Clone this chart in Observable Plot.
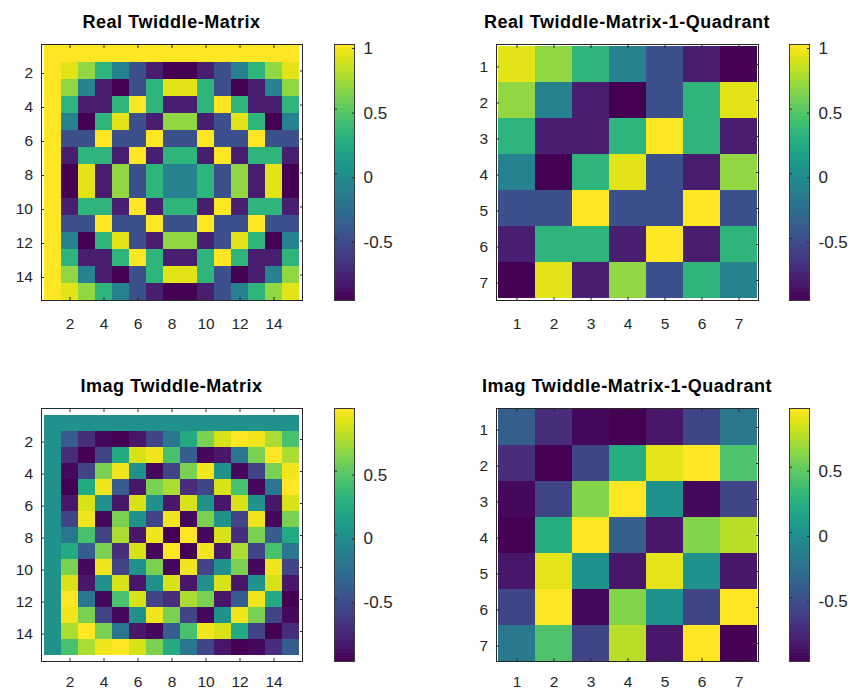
<!DOCTYPE html>
<html>
<head>
<meta charset="utf-8">
<script src="https://cdn.jsdelivr.net/npm/d3@7"></script>
<script src="https://cdn.jsdelivr.net/npm/@observablehq/plot@0.6"></script>
<style>
  html, body { margin: 0; padding: 0; background: #fff; }
  #fig { position: relative; width: 850px; height: 691px; overflow: hidden; font-family: "Liberation Sans", Arial, Helvetica, sans-serif; }
  #fig svg { max-width: none !important; display: block; }
  .title { position: absolute; font-weight: bold; font-size: 18px; line-height: 18px; letter-spacing: 0.55px; color: #000; text-align: center; white-space: nowrap; transform: translateX(-50%); }
  .panel { position: absolute; }
</style>
</head>
<body>
<div id="fig"></div>
<script>
// ---------- data ----------
const fullIndex = [1,2,3,4,5,6,7,8,9,10,11,12,13,14,15];
const quadIndex = [1,2,3,4,5,6,7];
const fullTicks = [2,4,6,8,10,12,14];
const quadTicks = [1,2,3,4,5,6,7];
const realBarTicks = [-0.5, 0, 0.5, 1];
const imagBarTicks = [-0.5, 0, 0.5];

const titles = ["Real Twiddle-Matrix", "Real Twiddle-Matrix-1-Quadrant", "Imag Twiddle-Matrix", "Imag Twiddle-Matrix-1-Quadrant"];

const realFull = [
 [1,1,1,1,1,1,1,1,1,1,1,1,1,1,1],
 [1,0.91,0.67,0.31,-0.1,-0.5,-0.81,-0.98,-0.98,-0.81,-0.5,-0.1,0.31,0.67,0.91],
 [1,0.67,-0.1,-0.81,-0.98,-0.5,0.31,0.91,0.91,0.31,-0.5,-0.98,-0.81,-0.1,0.67],
 [1,0.31,-0.81,-0.81,0.31,1,0.31,-0.81,-0.81,0.31,1,0.31,-0.81,-0.81,0.31],
 [1,-0.1,-0.98,0.31,0.91,-0.5,-0.81,0.67,0.67,-0.81,-0.5,0.91,0.31,-0.98,-0.1],
 [1,-0.5,-0.5,1,-0.5,-0.5,1,-0.5,-0.5,1,-0.5,-0.5,1,-0.5,-0.5],
 [1,-0.81,0.31,0.31,-0.81,1,-0.81,0.31,0.31,-0.81,1,-0.81,0.31,0.31,-0.81],
 [1,-0.98,0.91,-0.81,0.67,-0.5,0.31,-0.1,-0.1,0.31,-0.5,0.67,-0.81,0.91,-0.98],
 [1,-0.98,0.91,-0.81,0.67,-0.5,0.31,-0.1,-0.1,0.31,-0.5,0.67,-0.81,0.91,-0.98],
 [1,-0.81,0.31,0.31,-0.81,1,-0.81,0.31,0.31,-0.81,1,-0.81,0.31,0.31,-0.81],
 [1,-0.5,-0.5,1,-0.5,-0.5,1,-0.5,-0.5,1,-0.5,-0.5,1,-0.5,-0.5],
 [1,-0.1,-0.98,0.31,0.91,-0.5,-0.81,0.67,0.67,-0.81,-0.5,0.91,0.31,-0.98,-0.1],
 [1,0.31,-0.81,-0.81,0.31,1,0.31,-0.81,-0.81,0.31,1,0.31,-0.81,-0.81,0.31],
 [1,0.67,-0.1,-0.81,-0.98,-0.5,0.31,0.91,0.91,0.31,-0.5,-0.98,-0.81,-0.1,0.67],
 [1,0.91,0.67,0.31,-0.1,-0.5,-0.81,-0.98,-0.98,-0.81,-0.5,-0.1,0.31,0.67,0.91]
];

const imagFull = [
 [0,0,0,0,0,0,0,0,0,0,0,0,0,0,0],
 [0,-0.41,-0.74,-0.95,-0.99,-0.87,-0.59,-0.21,0.21,0.59,0.87,0.99,0.95,0.74,0.41],
 [0,-0.74,-0.99,-0.59,0.21,0.87,0.95,0.41,-0.41,-0.95,-0.87,-0.21,0.59,0.99,0.74],
 [0,-0.95,-0.59,0.59,0.95,0,-0.95,-0.59,0.59,0.95,0,-0.95,-0.59,0.59,0.95],
 [0,-0.99,0.21,0.95,-0.41,-0.87,0.59,0.74,-0.74,-0.59,0.87,0.41,-0.95,-0.21,0.99],
 [0,-0.87,0.87,0,-0.87,0.87,0,-0.87,0.87,0,-0.87,0.87,0,-0.87,0.87],
 [0,-0.59,0.95,-0.95,0.59,0,-0.59,0.95,-0.95,0.59,0,-0.59,0.95,-0.95,0.59],
 [0,-0.21,0.41,-0.59,0.74,-0.87,0.95,-0.99,0.99,-0.95,0.87,-0.74,0.59,-0.41,0.21],
 [0,0.21,-0.41,0.59,-0.74,0.87,-0.95,0.99,-0.99,0.95,-0.87,0.74,-0.59,0.41,-0.21],
 [0,0.59,-0.95,0.95,-0.59,0,0.59,-0.95,0.95,-0.59,0,0.59,-0.95,0.95,-0.59],
 [0,0.87,-0.87,0,0.87,-0.87,0,0.87,-0.87,0,0.87,-0.87,0,0.87,-0.87],
 [0,0.99,-0.21,-0.95,0.41,0.87,-0.59,-0.74,0.74,0.59,-0.87,-0.41,0.95,0.21,-0.99],
 [0,0.95,0.59,-0.59,-0.95,0,0.95,0.59,-0.59,-0.95,0,0.95,0.59,-0.59,-0.95],
 [0,0.74,0.99,0.59,-0.21,-0.87,-0.95,-0.41,0.41,0.95,0.87,0.21,-0.59,-0.99,-0.74],
 [0,0.41,0.74,0.95,0.99,0.87,0.59,0.21,-0.21,-0.59,-0.87,-0.99,-0.95,-0.74,-0.41]
];

const realQuad = [
 [0.91,0.67,0.31,-0.1,-0.5,-0.81,-0.98],
 [0.67,-0.1,-0.81,-0.98,-0.5,0.31,0.91],
 [0.31,-0.81,-0.81,0.31,1,0.31,-0.81],
 [-0.1,-0.98,0.31,0.91,-0.5,-0.81,0.67],
 [-0.5,-0.5,1,-0.5,-0.5,1,-0.5],
 [-0.81,0.31,0.31,-0.81,1,-0.81,0.31],
 [-0.98,0.91,-0.81,0.67,-0.5,0.31,-0.1]
];

const imagQuad = [
 [-0.41,-0.74,-0.95,-0.99,-0.87,-0.59,-0.21],
 [-0.74,-0.99,-0.59,0.21,0.87,0.95,0.41],
 [-0.95,-0.59,0.59,0.95,0,-0.95,-0.59],
 [-0.99,0.21,0.95,-0.41,-0.87,0.59,0.74],
 [-0.87,0.87,0,-0.87,0.87,0,-0.87],
 [-0.59,0.95,-0.95,0.59,0,-0.59,0.95],
 [-0.21,0.41,-0.59,0.74,-0.87,0.95,-0.99]
];

// ---------- layout ----------
const INK = "#262626";
const FONT = "'Liberation Sans', Arial, Helvetica, sans-serif";
const fig = document.getElementById("fig");

const panels = [
  {title: titles[0], M: realFull, idx: fullIndex, ticks: fullTicks, bar: realBarTicks, fx: 41, fy: 44, fw: 261, fh: 256, bx: 334, pad: 20.5},
  {title: titles[1], M: realQuad, idx: quadIndex, ticks: quadTicks, bar: realBarTicks, fx: 496, fy: 44, fw: 262, fh: 256, bx: 789, pad: 20.5},
  {title: titles[2], M: imagFull, idx: fullIndex, ticks: fullTicks, bar: imagBarTicks, fx: 41, fy: 408, fw: 261, fh: 253, bx: 334, pad: 17},
  {title: titles[3], M: imagQuad, idx: quadIndex, ticks: quadTicks, bar: imagBarTicks, fx: 496, fy: 408, fw: 262, fh: 253, bx: 789, pad: 17}
];

function place(node, left, top) {
  const d = document.createElement("div");
  d.className = "panel";
  d.style.left = left + "px";
  d.style.top = top + "px";
  d.appendChild(node);
  fig.appendChild(d);
}

const styleObj = {fontFamily: FONT, fontSize: "15px", color: INK, background: "transparent", overflow: "visible"};

for (const p of panels) {
  const cells = [];
  p.M.forEach((row, i) => row.forEach((v, j) => cells.push({row: p.idx[i], col: p.idx[j], v})));
  const vals = cells.map(d => d.v);
  const lo = d3.min(vals), hi = d3.max(vals);
  const color = {type: "linear", scheme: "viridis", domain: [lo, hi]};

  const mL = 45, mT = 10, mR = 10, mB = 30;
  const heat = Plot.plot({
    width: p.fw + mL + mR, height: p.fh + mT + mB,
    marginLeft: mL, marginTop: mT, marginRight: mR, marginBottom: mB,
    x: {type: "band", domain: p.idx, padding: 0, axis: null, label: null},
    y: {type: "band", domain: p.idx, padding: 0, axis: null, label: null},
    color,
    style: styleObj,
    marks: [
      Plot.cell(cells, {x: "col", y: "row", fill: "v", shapeRendering: "crispEdges"}),
      Plot.axisX(p.ticks, {anchor: "bottom", tickSize: -3, tickPadding: p.pad, stroke: INK, fill: INK, label: null, fontSize: 15.5}),
      Plot.axisX(p.ticks, {anchor: "top", tickSize: -3, tickFormat: () => "", stroke: INK, label: null}),
      Plot.axisY(p.ticks, {anchor: "left", tickSize: -3, tickPadding: 11.5, dy: 2.5, stroke: INK, fill: INK, label: null, fontSize: 15.5}),
      Plot.axisY(p.ticks, {anchor: "right", tickSize: -3, tickFormat: () => "", stroke: INK, label: null}),
      Plot.frame({stroke: INK, strokeWidth: 1})
    ]
  });
  place(heat, p.fx - mL, p.fy - mT);

  // colorbar
  const n = 64;
  const stops = d3.range(n).map(i => ({y1: lo + (hi - lo) * i / n, y2: lo + (hi - lo) * (i + 1) / n, v: lo + (hi - lo) * (i + 0.5) / n}));
  const bL = 5, bR = 50, bT = 10, bB = 10, bw = 20;
  const bar = Plot.plot({
    width: bw + bL + bR, height: p.fh + bT + bB,
    marginLeft: bL, marginRight: bR, marginTop: bT, marginBottom: bB,
    x: {axis: null},
    y: {domain: [lo, hi], axis: null, label: null},
    color,
    style: styleObj,
    marks: [
      Plot.rect(stops, {y1: "y1", y2: "y2", fill: "v", shapeRendering: "crispEdges"}),
      Plot.axisY(p.bar, {anchor: "right", tickSize: -3, tickPadding: 12, dy: 4, stroke: INK, fill: INK, label: null, fontSize: 17, tickFormat: d => String(d), textAnchor: "start"}),
      Plot.axisY(p.bar, {anchor: "left", tickSize: -3, tickFormat: () => "", stroke: INK, label: null}),
      Plot.frame({stroke: "#3a3a3a", strokeWidth: 1})
    ]
  });
  place(bar, p.bx - bL, p.fy - bT);

  const t = document.createElement("div");
  t.className = "title";
  t.textContent = p.title;
  t.style.left = (p.fx + p.fw / 2) + "px";
  t.style.top = (p.fy - 31.5) + "px";
  fig.appendChild(t);
}
</script>
</body>
</html>
